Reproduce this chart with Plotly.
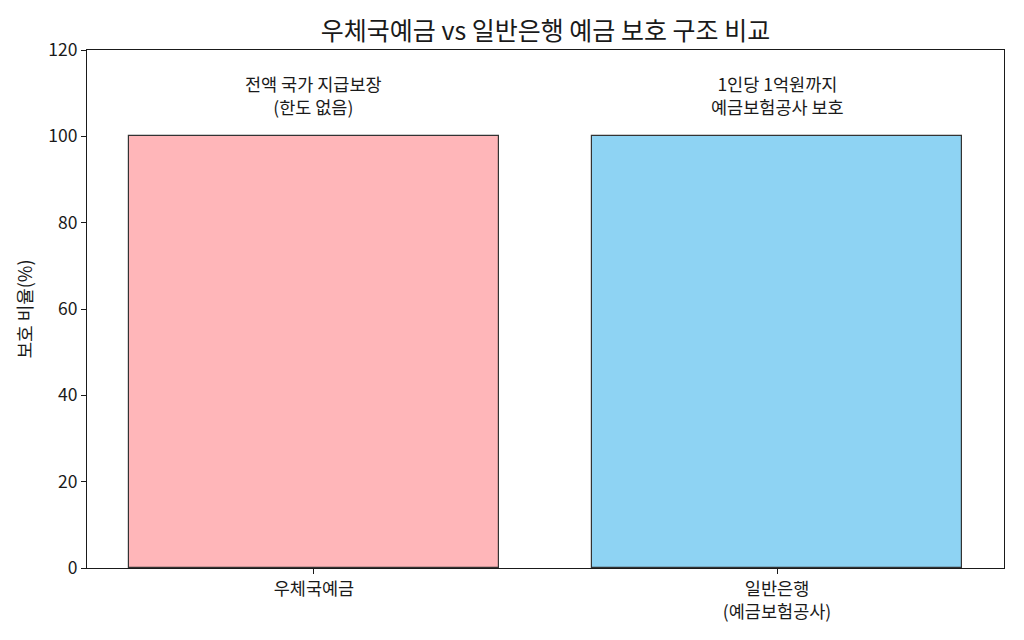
import plotly.graph_objects as go

categories = ["우체국예금", "일반은행<br>(예금보험공사)"]
values = [100, 100]
notes = ["전액 국가 지급보장<br>(한도 없음)", "1인당 1억원까지<br>예금보험공사 보호"]
colors = ["#FFB6B9", "#8ED3F3"]

FONT = "Noto Sans CJK KR"

fig = go.Figure()
fig.add_trace(go.Bar(
    x=[0, 1], y=values, width=0.8,
    marker=dict(color=colors, line=dict(color="#333333", width=1.2)),
    showlegend=False,
))

# note above each bar
for i, (v, note) in enumerate(zip(values, notes)):
    fig.add_annotation(x=i, y=v + 3.6, text=note, showarrow=False,
                       yanchor="bottom", xanchor="center",
                       font=dict(family=FONT, size=17.5, color="#1a1a1a"))

fig.update_layout(
    width=1024, height=640,
    margin=dict(l=79, r=28, t=42, b=80),
    paper_bgcolor="white", plot_bgcolor="white",
    font=dict(family=FONT, size=17.5, color="#1a1a1a"),
    title=dict(text="우체국예금 vs 일반은행 예금 보호 구조 비교", xref="paper", x=0.5,
               xanchor="center", y=0.964, yanchor="middle", font=dict(size=25)),
    bargap=0,
)
fig.update_xaxes(
    range=[-0.49, 1.49], tickmode="array", tickvals=[0, 1], ticktext=categories,
    showgrid=False, zeroline=False, showline=True, linecolor="#1a1a1a", linewidth=1.2,
    mirror=True, ticks="outside", ticklen=5, tickcolor="#1a1a1a",
)
fig.update_yaxes(
    range=[0, 120], tickvals=[0, 20, 40, 60, 80, 100, 120],
    title=dict(text="보호 비율(%)", standoff=10, font=dict(size=18)),
    showgrid=False, zeroline=False, showline=True, linecolor="#1a1a1a", linewidth=1.2,
    mirror=True, ticks="outside", ticklen=5, tickcolor="#1a1a1a",
)

fig.write_html("out.html")
